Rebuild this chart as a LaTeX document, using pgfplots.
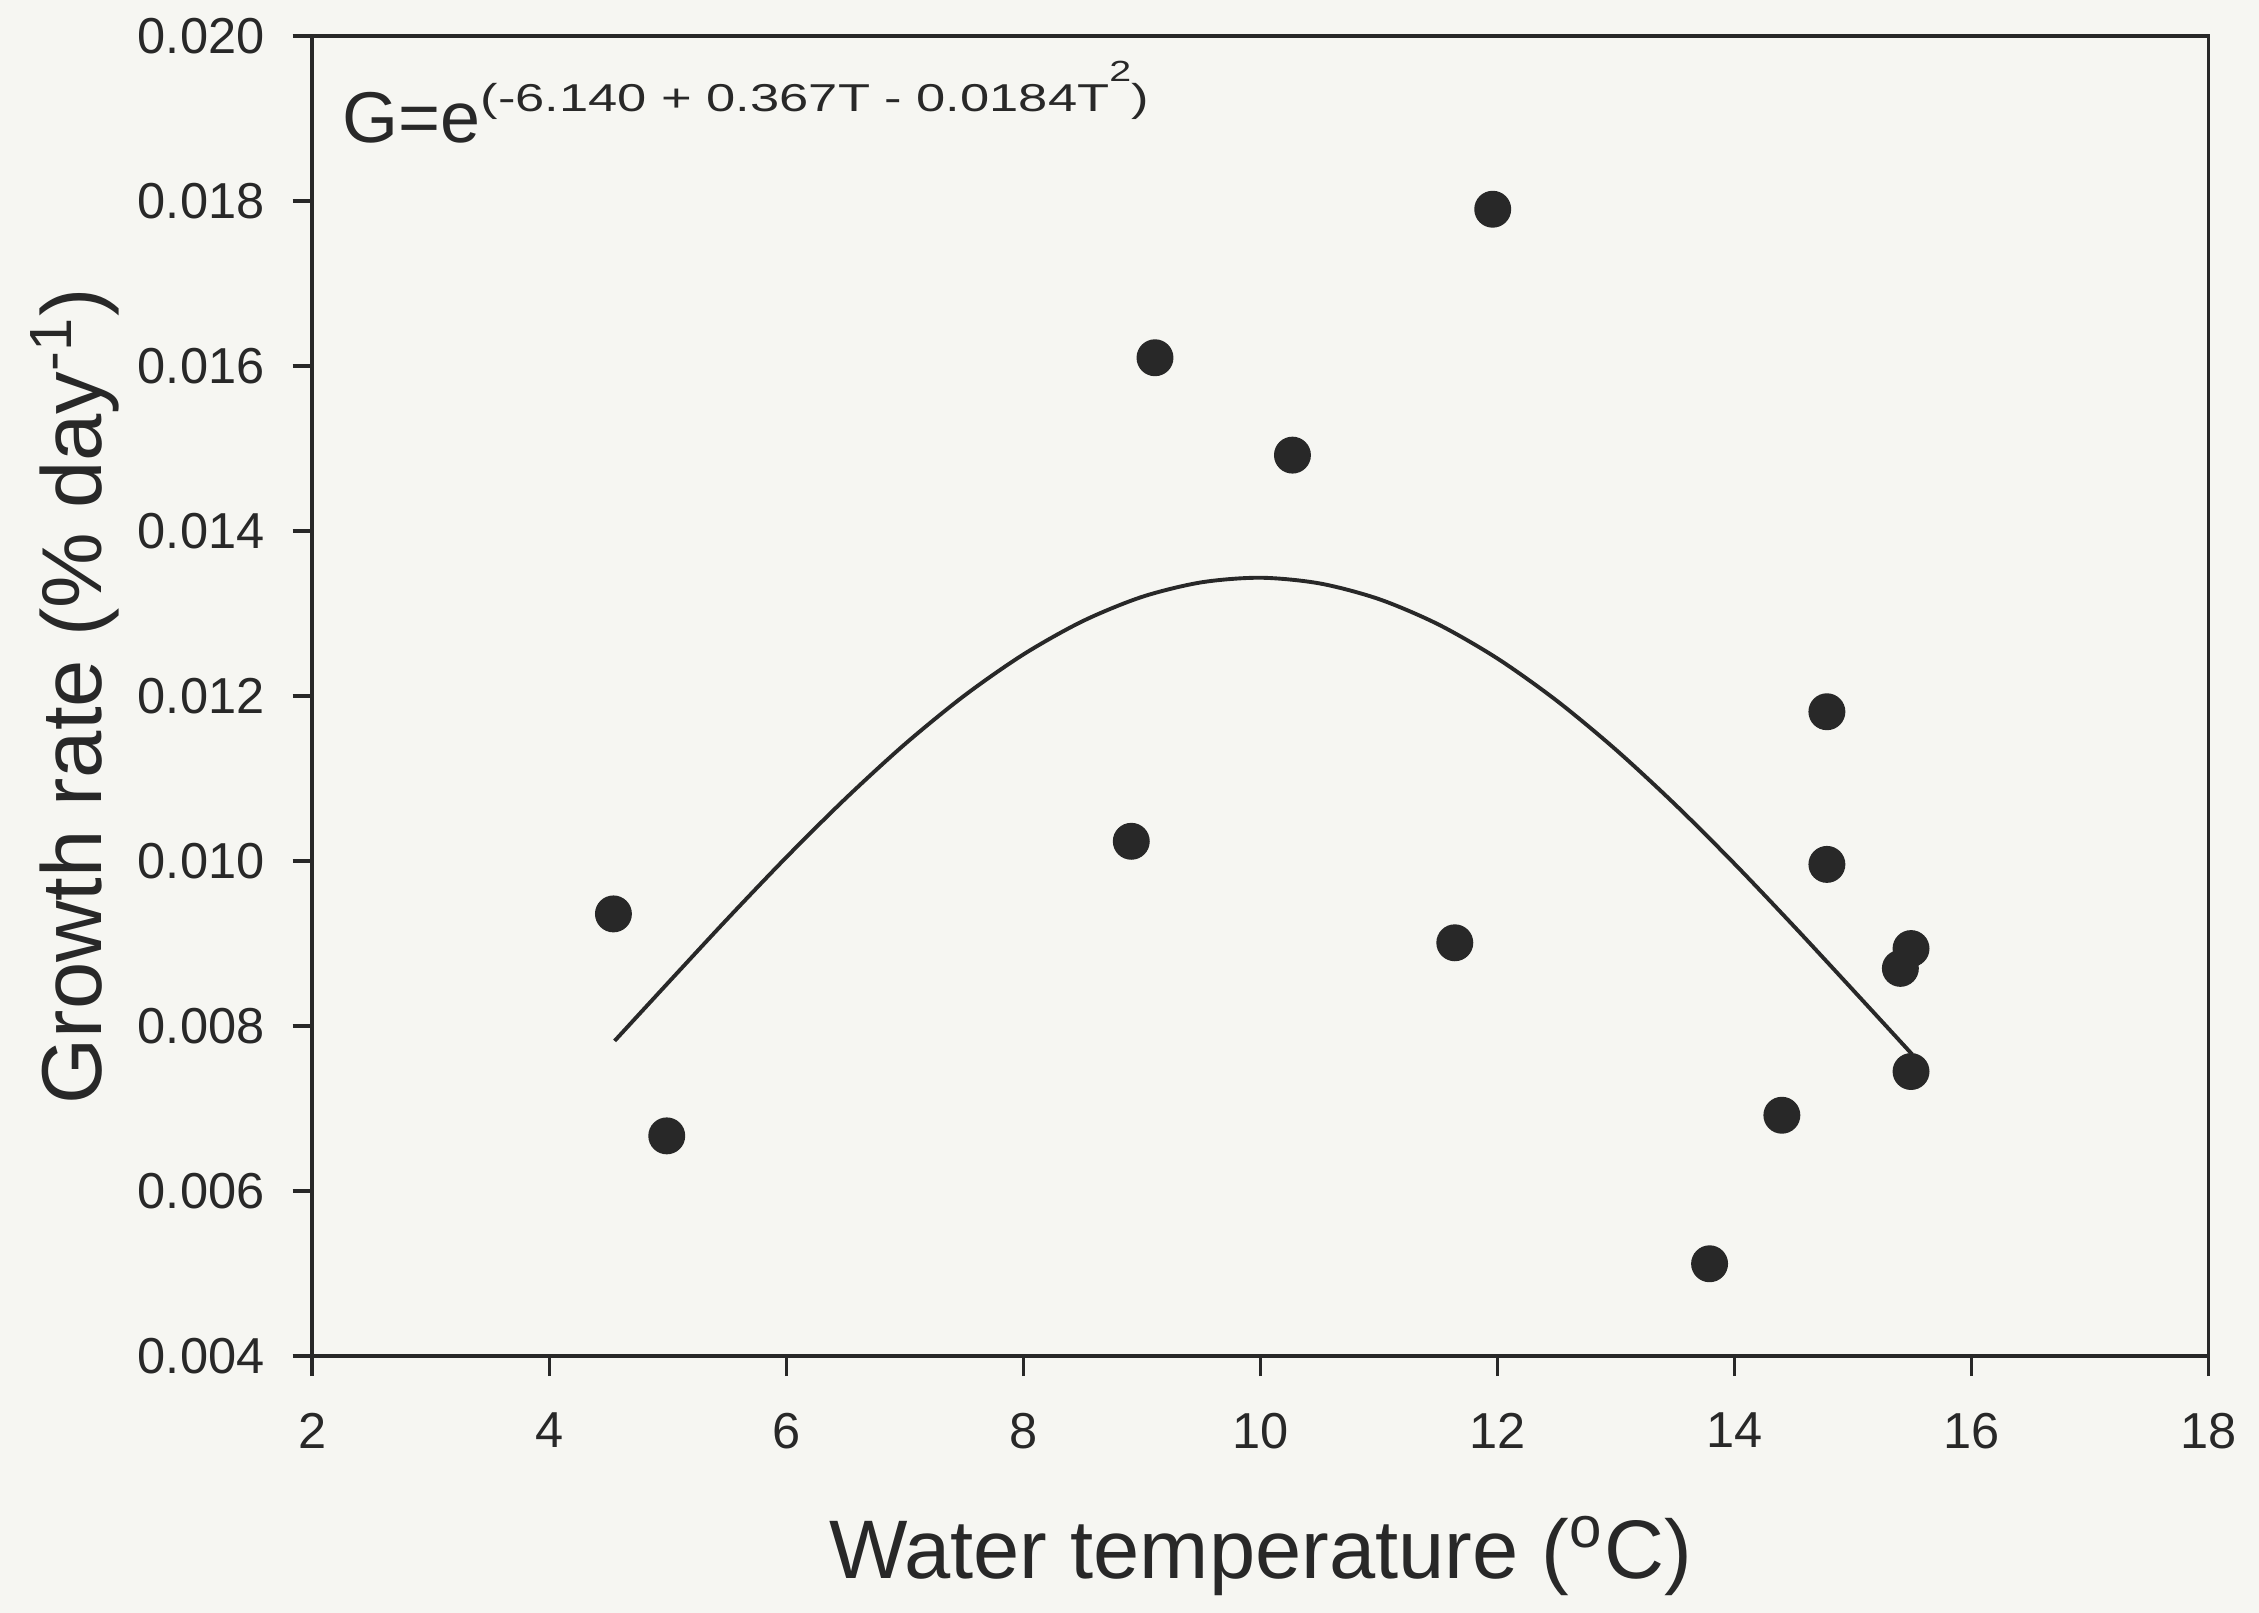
\documentclass[border=0pt]{standalone}
\usepackage{fontspec}
\setmainfont{Liberation Sans}
\usepackage{graphicx}
\usepackage{pgfplots}
\pgfplotsset{compat=1.18}

\definecolor{paper}{RGB}{246,246,242}
\definecolor{ink}{RGB}{40,40,40}

\begin{document}
\begin{tikzpicture}
% page area and paper tone
\path[use as bounding box, fill=paper] (-64.3pt,-52.8pt) rectangle (400.6pt,279.1pt);
\begin{axis}[
  name=main,
  at={(0pt,0pt)}, anchor=south west,
  scale only axis,
  width=390.2pt, height=271.7pt,
  xmin=2, xmax=18, ymin=0.004, ymax=0.020,
  xtick={2,4,6,8,10,12,14,16,18},
  ytick={0.004,0.006,0.008,0.010,0.012,0.014,0.016,0.018,0.020},
  scaled y ticks=false,
  yticklabel style={/pgf/number format/fixed, /pgf/number format/fixed zerofill, /pgf/number format/precision=3},
  /pgf/number format/assume math mode=true,
  tick align=outside,
  major tick length=4.1pt,
  xtick pos=bottom, ytick pos=left,
  axis line style={ink, line width=0.8pt},
  every tick/.style={ink, line width=0.8pt},
  tick label style={font=\fontsize{10.4}{12}\selectfont, text=ink, inner sep=0pt},
  yticklabel style={anchor=east, xshift=-5.6pt},
  xticklabel style={anchor=north, yshift=-7.4pt},
  xlabel={Water temperature (\textsuperscript{o}C)},
  ylabel={Growth rate (\% day\textsuperscript{-1})},
  label style={text=ink, inner sep=0pt},
  xlabel style={font=\fontsize{17.1}{20}\selectfont, at={(axis description cs:0.5,-0.1682)}, anchor=base},
  ylabel style={font=\fontsize{17.5}{20}\selectfont, at={(axis description cs:-0.1110,0.5)}, anchor=base},
]
% fitted curve G = exp(-6.140 + 0.367T - 0.0184T^2), tabulated
\addplot[ink, line width=0.8pt, smooth] coordinates {
  (4.55,0.007821) (5.0,0.008523) (5.5,0.009297) (6.0,0.010048)
  (6.5,0.010760) (7.0,0.011418) (7.5,0.012004) (8.0,0.012505)
  (8.5,0.012908) (9.0,0.013202) (9.5,0.013378) (10.0,0.013434)
  (10.5,0.013365) (11.0,0.013175) (11.5,0.012869) (12.0,0.012455)
  (12.5,0.011944) (13.0,0.011349) (13.5,0.010685) (14.0,0.009968)
  (14.5,0.009213) (15.0,0.008438) (15.5,0.007657)
};
% observations
\addplot[only marks, mark=*, mark size=3.6pt, mark options={fill=ink, draw=ink}] coordinates {
  (4.54,0.00936) (4.99,0.00667) (8.91,0.01024) (9.11,0.01610)
  (10.27,0.01492) (11.64,0.00901) (11.96,0.01790) (13.79,0.00512)
  (14.40,0.00692) (14.78,0.01181) (14.78,0.00996) (15.40,0.00870)
  (15.49,0.00894) (15.49,0.00745)
};
\node[anchor=base west, inner sep=0pt, text=ink, font=\fontsize{14.8}{17}\selectfont]
  at (rel axis cs:0.0155,0.919)
  {G=e\raisebox{6.4pt}{\scalebox{1.35}[1]{\fontsize{8}{10}\selectfont(-6.140 + 0.367T - 0.0184T\raisebox{6.2pt}{\fontsize{6}{7}\selectfont 2})}}};
\end{axis}
\end{tikzpicture}
\end{document}
